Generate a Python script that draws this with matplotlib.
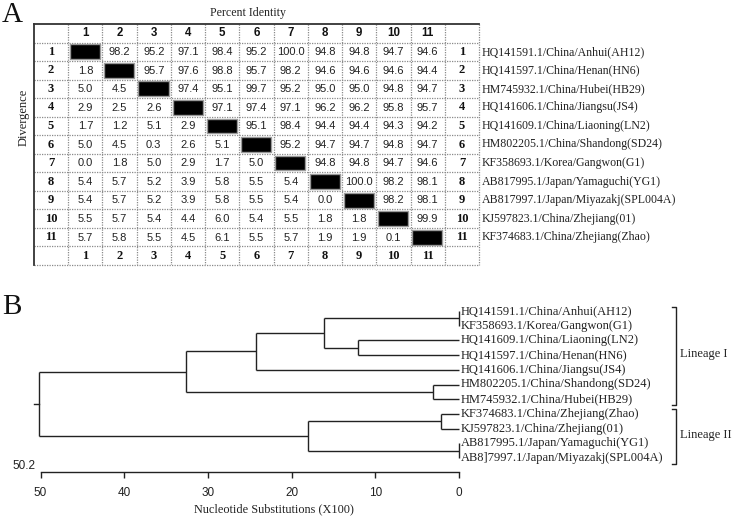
import matplotlib
matplotlib.use("Agg")
import matplotlib.pyplot as plt
from matplotlib.patches import Rectangle
import numpy as np

# ---------------- data ----------------
strains = [
    "HQ141591.1/China/Anhui(AH12)",
    "HQ141597.1/China/Henan(HN6)",
    "HM745932.1/China/Hubei(HB29)",
    "HQ141606.1/China/Jiangsu(JS4)",
    "HQ141609.1/China/Liaoning(LN2)",
    "HM802205.1/China/Shandong(SD24)",
    "KF358693.1/Korea/Gangwon(G1)",
    "AB817995.1/Japan/Yamaguchi(YG1)",
    "AB817997.1/Japan/Miyazakj(SPL004A)",
    "KJ597823.1/China/Zhejiang(01)",
    "KF374683.1/China/Zhejiang(Zhao)",
]

# upper triangle: percent identity (row i, columns i+1..10)
identity = [
    [98.2, 95.2, 97.1, 98.4, 95.2, 100.0, 94.8, 94.8, 94.7, 94.6],
    [95.7, 97.6, 98.8, 95.7, 98.2, 94.6, 94.6, 94.6, 94.4],
    [97.4, 95.1, 99.7, 95.2, 95.0, 95.0, 94.8, 94.7],
    [97.1, 97.4, 97.1, 96.2, 96.2, 95.8, 95.7],
    [95.1, 98.4, 94.4, 94.4, 94.3, 94.2],
    [95.2, 94.7, 94.7, 94.8, 94.7],
    [94.8, 94.8, 94.7, 94.6],
    [100.0, 98.2, 98.1],
    [98.2, 98.1],
    [99.9],
    [],
]
# lower triangle: divergence (row i, columns 0..i-1)
divergence = [
    [],
    [1.8],
    [5.0, 4.5],
    [2.9, 2.5, 2.6],
    [1.7, 1.2, 5.1, 2.9],
    [5.0, 4.5, 0.3, 2.6, 5.1],
    [0.0, 1.8, 5.0, 2.9, 1.7, 5.0],
    [5.4, 5.7, 5.2, 3.9, 5.8, 5.5, 5.4],
    [5.4, 5.7, 5.2, 3.9, 5.8, 5.5, 5.4, 0.0],
    [5.5, 5.7, 5.4, 4.4, 6.0, 5.4, 5.5, 1.8, 1.8],
    [5.7, 5.8, 5.5, 4.5, 6.1, 5.5, 5.7, 1.9, 1.9, 0.1],
]

# tree (leaf order top to bottom) and node heights
tree_leaves = [
    "HQ141591.1/China/Anhui(AH12)",
    "KF358693.1/Korea/Gangwon(G1)",
    "HQ141609.1/China/Liaoning(LN2)",
    "HQ141597.1/China/Henan(HN6)",
    "HQ141606.1/China/Jiangsu(JS4)",
    "HM802205.1/China/Shandong(SD24)",
    "HM745932.1/China/Hubei(HB29)",
    "KF374683.1/China/Zhejiang(Zhao)",
    "KJ597823.1/China/Zhejiang(01)",
    "AB817995.1/Japan/Yamaguchi(YG1)",
    "AB8]7997.1/Japan/Miyazakj(SPL004A)",
]
tree = (50.2, [
    (32.6, [
        (24.2, [
            (16.1, [(0.0, [0, 1]), (12.1, [2, 3])]),
            4,
        ]),
        (3.1, [5, 6]),
    ]),
    (18.0, [(2.1, [7, 8]), (0.0, [9, 10])]),
])
lineages = [("Lineage I", 0, 6), ("Lineage II", 7, 10)]
axis_ticks = [50, 40, 30, 20, 10, 0]
root_label = "50.2"

SERIF = ["Liberation Serif", "DejaVu Serif"]
SANS = ["Liberation Sans", "DejaVu Sans"]

W, H = 733, 519
fig = plt.figure(figsize=(W / 100, H / 100), dpi=100)


def fr(x0, y0, x1, y1):
    return [x0 / W, 1 - y1 / H, (x1 - x0) / W, (y1 - y0) / H]


# ---------------- panel A: matrix ----------------
n = len(strains)
ax1 = fig.add_axes(fr(34, 24, 479, 265))
ax1.set_xlim(0, n + 2)
ax1.set_ylim(n + 2, 0)
ax1.axis("off")

grid_c = "#8a8a8a"
for k in range(1, n + 2):
    ax1.plot([k, k], [0, n + 2], ls=(0, (1, 1)), color=grid_c, lw=0.9)
    ax1.plot([0, n + 2], [k, k], ls=(0, (1, 1)), color=grid_c, lw=0.9)
ax1.plot([n + 2, n + 2], [0, n + 2], ls=(0, (1, 1)), color=grid_c, lw=0.9, clip_on=False)
ax1.plot([0, n + 2], [n + 2, n + 2], ls=(0, (1, 1)), color=grid_c, lw=0.9, clip_on=False)
ax1.plot([0, n + 2], [0, 0], color="#333333", lw=1.3, clip_on=False)
ax1.plot([0, 0], [0, n + 2], color="#333333", lw=1.3, clip_on=False)

for i in range(n):
    # headers
    ax1.text(i + 1.5, 0.5, str(i + 1), ha="center", va="center", fontsize=8.3,
             fontweight="bold", family=SANS, color="#111")
    ax1.text(i + 1.5, n + 1.5, str(i + 1), ha="center", va="center", fontsize=9,
             fontweight="bold", family=SERIF, color="#111")
    ax1.text(0.5, i + 1.5, str(i + 1), ha="center", va="center", fontsize=9,
             fontweight="bold", family=SERIF, color="#111")
    ax1.text(n + 1.5, i + 1.5, str(i + 1), ha="center", va="center", fontsize=9,
             fontweight="bold", family=SERIF, color="#111")
    ax1.text(n + 2.08, i + 1.5, strains[i], ha="left", va="center", fontsize=8.6,
             family=SERIF, color="#222", clip_on=False)
    for j in range(n):
        if j == i:
            ax1.add_patch(Rectangle((j + 1.05, i + 1.1), 0.88, 0.8, facecolor="black",
                                    edgecolor="#9a9a9a", lw=1.0))
        elif j > i:
            v = identity[i][j - i - 1]
            ax1.text(j + 1.5, i + 1.52, f"{v:.1f}", ha="center", va="center",
                     fontsize=8, family=SANS, color="#222")
        else:
            v = divergence[i][j]
            ax1.text(j + 1.5, i + 1.52, f"{v:.1f}", ha="center", va="center",
                     fontsize=8, family=SANS, color="#222")

fig.text(248 / W, 1 - 13 / H, "Percent Identity", ha="center", va="center",
         fontsize=8.6, family=SERIF, color="#222")
fig.text(24 / W, 1 - 117 / H, "Divergence", ha="center", va="center", rotation=90,
         fontsize=9, family=SERIF, color="#222")
fig.text(2 / W, 1 - 2 / H, "A", ha="left", va="top", fontsize=21, family=SERIF, color="#111")
fig.text(2 / W, 1 - 294 / H, "B", ha="left", va="top", fontsize=21, family=SERIF, color="#111")

# ---------------- panel B: tree ----------------
ppu = 8.37  # px per unit
ax2 = fig.add_axes(fr(0, 280, W, H))
ax2.set_xlim(459 / ppu, (459 - W) / ppu)
ax2.set_ylim((H - 311) / 14.7, (280 - 311) / 14.7)
lc = "#222222"
lw = 1.0


def draw(node):
    if isinstance(node, int):
        return float(node), 0.0
    h, children = node
    pts = [draw(c) for c in children]
    ys = [p[0] for p in pts]
    ax2.plot([h, h], [min(ys), max(ys)], color=lc, lw=lw, solid_capstyle="butt")
    for y, ch in pts:
        ax2.plot([h, ch], [y, y], color=lc, lw=lw, solid_capstyle="butt")
    return (min(ys) + max(ys)) / 2, h


ry, rh = draw(tree)
ax2.plot([rh, rh + 0.6], [ry, ry], color=lc, lw=lw)

for i, lab in enumerate(tree_leaves):
    ax2.text(-0.2, i, lab, ha="left", va="center", fontsize=9, family=SERIF, color="#222")

for name, a, b in lineages:
    top, bot = a - 0.3, b + 0.4
    xb = -25.9
    ax2.plot([xb + 0.5, xb, xb, xb + 0.5], [top, top, bot, bot], color=lc, lw=1.0)
    ax2.text(xb - 0.5, (top + bot) / 2 - 0.1, name, ha="left", va="center", fontsize=9,
             family=SERIF, color="#222")

for s in ["top", "left", "right"]:
    ax2.spines[s].set_visible(False)
ax2.yaxis.set_visible(False)
ax2.spines["bottom"].set_position(("data", 10.95))
ax2.spines["bottom"].set_bounds(0, 50)
ax2.spines["bottom"].set_linewidth(1.0)
ax2.spines["bottom"].set_color(lc)
ax2.set_xticks(axis_ticks)
ax2.set_xticklabels([str(t) for t in axis_ticks], family=SANS, fontsize=8.5, color="#222")
ax2.tick_params(axis="x", direction="out", length=4, width=1.0, pad=7, color=lc)
ax2.text(50.6, 10.95, root_label, ha="right", va="bottom", fontsize=8.5, family=SANS, color="#222")
ax2.text(22.1, 13.5, "Nucleotide Substitutions (X100)", ha="center", va="center",
         fontsize=8.8, family=SERIF, color="#222")
ax2.patch.set_alpha(0)

fig.savefig("out.png", dpi=100)
